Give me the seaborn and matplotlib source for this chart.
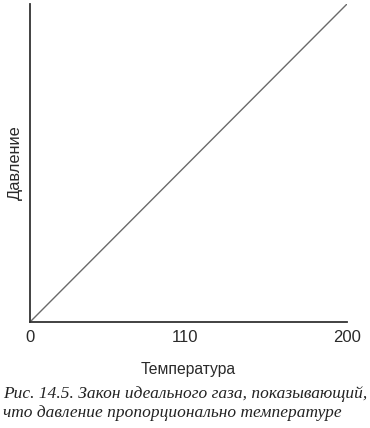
import matplotlib
matplotlib.use("Agg")
import matplotlib.pyplot as plt
import seaborn as sns
import pandas as pd

temperature = [0, 200]
pressure = [0, 200]
tick_positions = [0, 98, 200]
tick_labels = ["0", "110", "200"]

sns.set_theme(style="white")
plt.rcParams['font.family'] = ['Liberation Sans', 'DejaVu Sans']

W, H = 370, 428
fig = plt.figure(figsize=(W / 100, H / 100), dpi=100)
ax = fig.add_axes([30 / W, (H - 322) / H, (347 - 30) / W, (322 - 4) / H])

df = pd.DataFrame({"Температура": temperature, "Давление": pressure})
sns.lineplot(data=df, x="Температура", y="Давление", ax=ax, color="#6a6a6a", linewidth=1.0)

ax.set_xlim(0, 200)
ax.set_ylim(0, 200)
ax.set_xticks(tick_positions)
ax.set_xticklabels(tick_labels, fontsize=12, color="#2a2a2a")
ax.set_yticks([])
ax.tick_params(axis="x", length=0, pad=6)
for s in ["top", "right"]:
    ax.spines[s].set_visible(False)
for s in ["left", "bottom"]:
    ax.spines[s].set_color("#333333")
    ax.spines[s].set_linewidth(1.3)

ax.set_xlabel("Температура", fontsize=11.3, color="#2a2a2a", labelpad=12)
ax.set_ylabel("Давление", fontsize=11.8, color="#2a2a2a", labelpad=5)

fig.text(3 / W, 1 - 394 / H, "Рис. 14.5. Закон идеального газа, показывающий,",
         family=["Liberation Serif"], style="italic", fontsize=12.5, color="#222222",
         va="center", ha="left")
fig.text(3 / W, 1 - 413 / H, "что давление пропорционально температуре",
         family=["Liberation Serif"], style="italic", fontsize=12.5, color="#222222",
         va="center", ha="left")

fig.savefig("out.png", dpi=100)
